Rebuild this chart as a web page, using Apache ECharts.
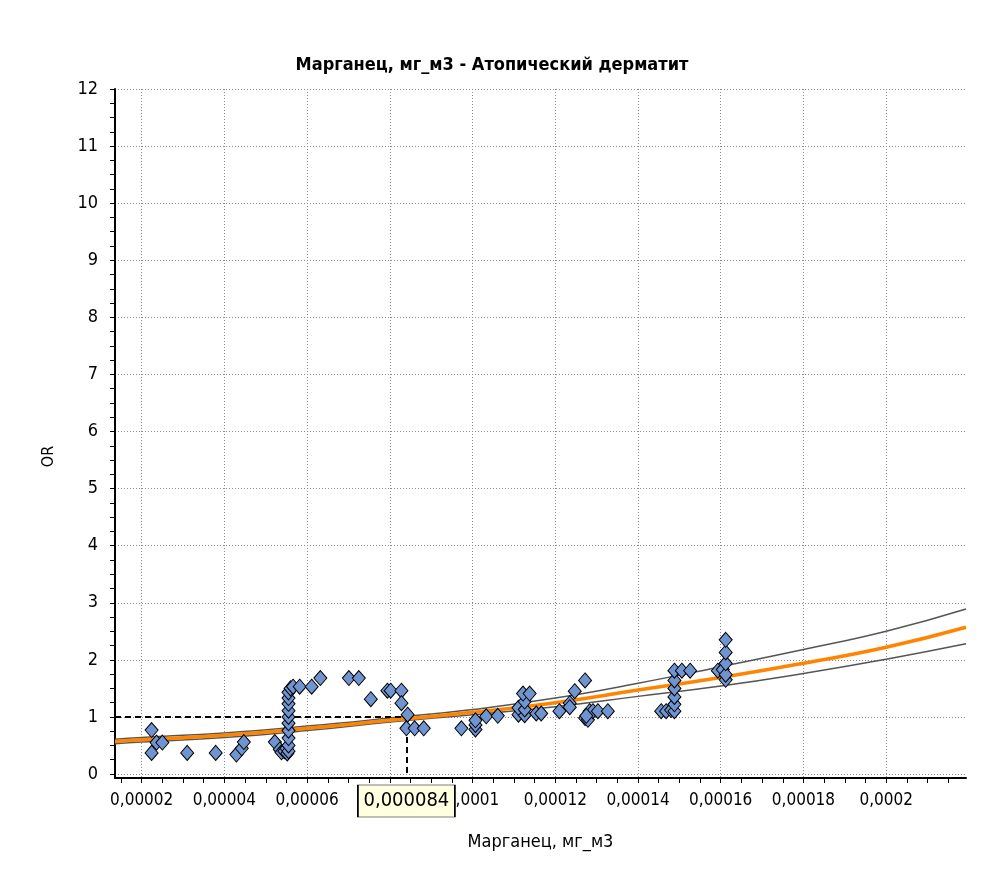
<!DOCTYPE html>
<html>
<head>
<meta charset="utf-8">
<script src="https://cdn.jsdelivr.net/npm/echarts@6/dist/echarts.min.js"></script>
<style>
  html, body { margin: 0; padding: 0; background: #ffffff; }
  #chart { width: 984px; height: 872px; }
</style>
</head>
<body>
<div id="chart"></div>
<script>
// ---- Text ----
const TITLE = 'Марганец, мг_м3 - Атопический дерматит';
const X_NAME = 'Марганец, мг_м3';
const Y_NAME = 'OR';

// ---- Axis ranges and ticks ----
const X_MIN = 0.00001355;
const X_MAX = 0.0002193;
const Y_MIN = -0.07;
const Y_MAX = 12;
const X_LABELS = [0.00002, 0.00004, 0.00006, 0.00008, 0.0001, 0.00012, 0.00014, 0.00016, 0.00018, 0.0002];
const X_MINOR_STEP = 0.000005;
const Y_LABELS = [0, 1, 2, 3, 4, 5, 6, 7, 8, 9, 10, 11, 12];
const Y_MINOR_STEP = 0.25;

// ---- Threshold marker ----
const THRESHOLD_X = 0.000084;
const THRESHOLD_Y = 1;
const THRESHOLD_LABEL = '0,000084';

// ---- Observed points ----
const POINT_X = [
  0.0000224, 0.0000224, 0.0000236, 0.0000250, 0.0000310, 0.0000379, 0.0000429, 0.0000442, 0.0000447,
  0.0000522, 0.0000534, 0.0000538, 0.0000545, 0.0000550, 0.0000552,
  0.0000555, 0.0000555, 0.0000555, 0.0000555, 0.0000555, 0.0000555, 0.0000555, 0.0000555, 0.0000555, 0.0000555,
  0.0000560, 0.0000566, 0.0000582, 0.0000611, 0.0000632, 0.0000701, 0.0000725, 0.0000754,
  0.0000794, 0.0000802, 0.0000828, 0.0000828, 0.0000843, 0.0000840, 0.0000860, 0.0000882,
  0.0000973, 0.0001007, 0.0001007, 0.0001007, 0.0001033, 0.0001061,
  0.0001111, 0.0001126, 0.0001111, 0.0001126, 0.0001126, 0.0001122, 0.0001138, 0.0001154, 0.0001166,
  0.0001210, 0.0001235, 0.0001235, 0.0001247, 0.0001272, 0.0001272, 0.0001279, 0.0001283, 0.0001291, 0.0001303, 0.0001327, 0.0001275,
  0.0001456, 0.0001468, 0.0001480, 0.0001488, 0.0001488, 0.0001488, 0.0001488, 0.0001488, 0.0001488, 0.0001506, 0.0001526,
  0.0001593, 0.0001605, 0.0001612, 0.0001612, 0.0001612, 0.0001612, 0.0001612
];
const POINT_Y = [
  0.77, 0.37, 0.55, 0.55, 0.37, 0.37, 0.34, 0.45, 0.56,
  0.56, 0.43, 0.38, 0.40, 0.45, 0.36,
  0.40, 0.50, 0.63, 0.76, 0.89, 1.00, 1.11, 1.23, 1.33, 1.43,
  1.50, 1.53, 1.53, 1.53, 1.68, 1.68, 1.68, 1.31,
  1.46, 1.46, 1.46, 1.24, 1.04, 0.80, 0.80, 0.80,
  0.80, 0.78, 0.86, 0.94, 1.01, 1.02,
  1.04, 1.03, 1.16, 1.13, 1.27, 1.41, 1.41, 1.06, 1.06,
  1.10, 1.24, 1.17, 1.45, 1.64, 0.98, 0.95, 1.10, 1.10, 1.10, 1.10, 1.02,
  1.10, 1.10, 1.12, 1.10, 1.22, 1.35, 1.50, 1.64, 1.81, 1.81, 1.81,
  1.81, 1.83, 1.65, 1.74, 1.94, 2.13, 2.35
];

// ---- Fitted OR curve and confidence bounds ----
const CURVE_X = [0.00001355, 0.00002, 0.00004, 0.00006, 0.00008, 0.0001, 0.00012, 0.00014, 0.00016, 0.00018, 0.0002, 0.0002193];
const CURVE_OR = [0.57, 0.60, 0.68, 0.80, 0.94, 1.08, 1.25, 1.47, 1.69, 1.94, 2.22, 2.57];
const CURVE_UPPER = [0.61, 0.64, 0.72, 0.84, 0.98, 1.13, 1.33, 1.59, 1.88, 2.18, 2.50, 2.89];
const CURVE_LOWER = [0.53, 0.56, 0.64, 0.76, 0.91, 1.04, 1.18, 1.36, 1.54, 1.76, 2.01, 2.28];

// ---- helpers ----
function stepsBetween(a, b, step) {
  const out = [];
  const n = Math.round((b - a) / step);
  for (let i = 0; i <= n; i++) out.push(+(a + i * step).toPrecision(10));
  return out;
}
const X_TICKS = stepsBetween(0.000015, 0.000215, X_MINOR_STEP);
const Y_TICKS = stepsBetween(0, 12, Y_MINOR_STEP);
const zip = (xs, ys) => xs.map((x, i) => [x, ys[i]]);
const fmtX = v => String(v).replace('.', ',');

const FONT = '"Liberation Sans Narrow", "DejaVu Sans Condensed", "Arial Narrow", sans-serif';
const GRID_LINE = { show: true, lineStyle: { color: '#8c8c8c', width: 1, type: [1, 2] } };

const chart = echarts.init(document.getElementById('chart'), null, { renderer: 'canvas' });
chart.setOption({
  animation: false,
  backgroundColor: '#ffffff',
  title: {
    text: TITLE, left: 'center', top: 51,
    textStyle: { fontFamily: FONT, fontSize: 18, fontWeight: 'bold', color: '#000' }
  },
  grid: { left: 115, right: 18, top: 89, bottom: 94, containLabel: false },
  xAxis: [
    {
      type: 'value', min: X_MIN, max: X_MAX,
      name: X_NAME, nameLocation: 'middle', nameGap: 55,
      nameTextStyle: { fontFamily: FONT, fontSize: 18, color: '#000' },
      axisLine: { show: true, onZero: false, lineStyle: { color: '#000', width: 2 } },
      axisTick: { show: true, customValues: X_TICKS, length: 5, lineStyle: { color: '#000', width: 1 } },
      axisLabel: { customValues: X_LABELS, formatter: fmtX, margin: 14, fontFamily: FONT, fontSize: 17, color: '#000' },
      splitLine: { show: false }
    },
    {
      type: 'value', min: X_MIN, max: X_MAX, position: 'bottom',
      axisLine: { show: false }, axisLabel: { show: false },
      axisTick: { show: false, customValues: X_LABELS },
      splitLine: GRID_LINE
    }
  ],
  yAxis: [
    {
      type: 'value', min: Y_MIN, max: Y_MAX,
      name: Y_NAME, nameLocation: 'middle', nameGap: 58, nameRotate: 90,
      nameTextStyle: { fontFamily: FONT, fontSize: 16, color: '#000', padding: [0, 46, 0, 0] },
      axisLine: { show: true, onZero: false, lineStyle: { color: '#000', width: 2 } },
      axisTick: { show: true, customValues: Y_TICKS, length: 5, lineStyle: { color: '#000', width: 1 } },
      axisLabel: { customValues: Y_LABELS, margin: 17, fontFamily: FONT, fontSize: 18, color: '#000' },
      splitLine: { show: false }
    },
    {
      type: 'value', min: Y_MIN, max: Y_MAX, position: 'left',
      axisLine: { show: false }, axisLabel: { show: false },
      axisTick: { show: false, customValues: Y_LABELS },
      splitLine: GRID_LINE
    }
  ],
  series: [
    {
      name: 'upper', type: 'line', smooth: true, showSymbol: false, silent: true, z: 3,
      data: zip(CURVE_X, CURVE_UPPER),
      lineStyle: { color: '#555555', width: 1.5 }
    },
    {
      name: 'lower', type: 'line', smooth: true, showSymbol: false, silent: true, z: 3,
      data: zip(CURVE_X, CURVE_LOWER),
      lineStyle: { color: '#555555', width: 1.5 }
    },
    {
      name: 'OR', type: 'line', smooth: true, showSymbol: false, silent: true, z: 4,
      data: zip(CURVE_X, CURVE_OR),
      lineStyle: { color: '#ff8500', width: 3.5 },
      markLine: {
        silent: true, symbol: 'none', animation: false,
        label: { show: false },
        lineStyle: { color: '#000', width: 2, type: [6, 4] },
        data: [
          [{ coord: [X_MIN, THRESHOLD_Y] }, { coord: [THRESHOLD_X, THRESHOLD_Y] }],
          [{ coord: [THRESHOLD_X, THRESHOLD_Y] }, { coord: [THRESHOLD_X, Y_MIN] }]
        ]
      }
    },
    {
      name: 'points', type: 'scatter', z: 6,
      data: zip(POINT_X, POINT_Y),
      symbol: 'diamond', symbolSize: [13, 15],
      itemStyle: { color: '#7094d0', borderColor: '#000', borderWidth: 1, opacity: 1 }
    },
    {
      name: 'threshold-label', type: 'scatter', z: 20, data: [], silent: true,
      markPoint: {
        silent: true, animation: false, z: 20,
        symbol: 'rect', symbolSize: [97, 32], symbolOffset: [0, 23],
        itemStyle: { color: '#ffffe1', borderColor: '#000', borderWidth: 1 },
        label: { show: true, position: 'inside', formatter: THRESHOLD_LABEL, fontFamily: FONT, fontSize: 20, color: '#000' },
        data: [{ coord: [THRESHOLD_X, Y_MIN] }]
      }
    }
  ]
});
</script>
</body>
</html>
